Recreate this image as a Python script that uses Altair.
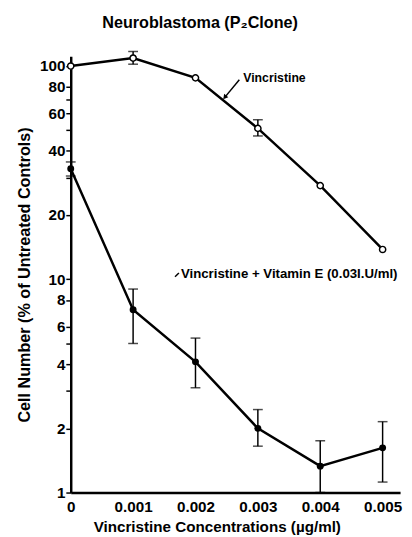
import altair as alt
import pandas as pd

# ---- data ----
conc = [0, 0.001, 0.002, 0.003, 0.004, 0.005]
vinc = [100, 109, 88, 51, 27.5, 13.8]
vinc_err_x = [0.001, 0.003]
vinc_err_lo = [102, 47]
vinc_err_hi = [117, 56]

vite = [33, 7.2, 4.1, 2.0, 1.33, 1.62]
vite_lo = [30.5, 5.0, 3.1, 1.65, 1.0, 1.12]
vite_hi = [35.5, 9.0, 5.3, 2.45, 1.75, 2.15]

y_ticks = [1, 2, 3, 4, 5, 6, 8, 10, 20, 30, 40, 50, 60, 70, 80, 100]
y_labels = [1, 2, 4, 6, 8, 10, 20, 40, 60, 80, 100]
x_ticks = [0, 0.001, 0.002, 0.003, 0.004, 0.005]

labels = ["Vincristine", "Vincristine + Vitamin E (0.03I.U/ml)"]
label_size = [12.5, 13.5]
label_x = [0.002766, 0.001766]
label_y = [88.1, 10.6]
ptr_x = [0.002703, 0.001672]
ptr_y = [86.2, 10.27]
ptr_x2 = [0.002469, 0.001734]
ptr_y2 = [71.3, 10.7]

FONT = "Liberation Sans"

df_v = pd.DataFrame({"x": conc, "y": vinc})
df_ve = pd.DataFrame({"x": vinc_err_x, "lo": vinc_err_lo, "hi": vinc_err_hi})
df_e = pd.DataFrame({"x": conc, "y": vite, "lo": vite_lo, "hi": vite_hi})
df_lab = pd.DataFrame({"x": label_x, "y": label_y, "t": labels, "s": label_size})
df_ptr = pd.DataFrame({"x": ptr_x, "y": ptr_y, "x2": ptr_x2, "y2": ptr_y2})

xs = alt.Scale(domain=[0, 0.00528], nice=False, zero=False)
ys = alt.Scale(type="log", domain=[1, 111], nice=False)

label_expr = "indexof(" + str(y_labels) + ", datum.value) >= 0 ? datum.value : ''"

X = alt.X("x:Q", scale=xs, axis=alt.Axis(
    values=x_ticks, labelExpr="datum.value == 0 ? '0' : format(datum.value, '.3f')",
    title="Vincristine Concentrations (µg/ml)", tickSize=0, labelPadding=7,
    grid=False, domainColor="black", domainWidth=2.5, labelFontSize=15.5,
    labelFontWeight="bold", labelColor="black", titleFontSize=15.5,
    titleFontWeight="bold", titlePadding=5, titleX=149, titleAnchor="start",
    titleAlign="center",
    labelFont=FONT, titleFont=FONT, labelFlush=False))
Y = alt.Y("y:Q", scale=ys, axis=alt.Axis(
    values=y_ticks, labelExpr=label_expr,
    title="Cell Number (% of Untreated Controls)", tickSize=5, tickWidth=1.5,
    tickColor="black", labelPadding=1, grid=False, domainColor="black",
    domainWidth=2.5, labelFontSize=15.5, labelFontWeight="bold", labelColor="black",
    titleFontSize=16.5, titleFontWeight="bold", titlePadding=7, labelFont=FONT,
    titleFont=FONT))

line_v = alt.Chart(df_v).mark_line(color="black", strokeWidth=2.5).encode(x=X, y=Y)
line_e = alt.Chart(df_e).mark_line(color="black", strokeWidth=2.5).encode(x=X, y=Y)

err_e = alt.Chart(df_e).mark_rule(color="black", strokeWidth=1.5).encode(
    x=X, y=alt.Y("lo:Q", scale=ys), y2="hi:Q")
cap_e_lo = alt.Chart(df_e).mark_tick(color="black", thickness=1.5, size=10, orient="horizontal").encode(
    x=X, y=alt.Y("lo:Q", scale=ys))
cap_e_hi = alt.Chart(df_e).mark_tick(color="black", thickness=1.5, size=10, orient="horizontal").encode(
    x=X, y=alt.Y("hi:Q", scale=ys))

err_v = alt.Chart(df_ve).mark_rule(color="black", strokeWidth=1.5).encode(
    x=X, y=alt.Y("lo:Q", scale=ys), y2="hi:Q")
cap_v_lo = alt.Chart(df_ve).mark_tick(color="black", thickness=1.5, size=10, orient="horizontal").encode(
    x=X, y=alt.Y("lo:Q", scale=ys))
cap_v_hi = alt.Chart(df_ve).mark_tick(color="black", thickness=1.5, size=10, orient="horizontal").encode(
    x=X, y=alt.Y("hi:Q", scale=ys))

pts_v = alt.Chart(df_v).mark_point(shape="circle", filled=True, fill="white", stroke="black",
                                   strokeWidth=1.5, size=40, opacity=1).encode(x=X, y=Y)
pts_e = alt.Chart(df_e).mark_point(shape="circle", filled=True, color="black", size=50,
                                   opacity=1).encode(x=X, y=Y)

txt = alt.Chart(df_lab).mark_text(align="left", baseline="middle", font=FONT,
                                  fontWeight="bold", color="black").encode(
    x=X, y=Y, text="t:N", size=alt.Size("s:Q", scale=None, legend=None))
ptr = alt.Chart(df_ptr).mark_rule(color="black", strokeWidth=1.5).encode(
    x=X, y=Y, x2="x2:Q", y2="y2:Q")
head = alt.Chart(df_ptr.iloc[[0]]).mark_point(shape="triangle-up", filled=True, color="black",
                                              size=30, angle=220, opacity=1).encode(
    x=alt.X("x2:Q", scale=xs), y=alt.Y("y2:Q", scale=ys))

chart = alt.layer(
    line_v, line_e, err_e, cap_e_lo, cap_e_hi, err_v, cap_v_lo, cap_v_hi,
    pts_v, pts_e, ptr, head, txt
).properties(
    width=336, height=445,
    title=alt.Title("Neuroblastoma (P₂Clone)", font=FONT, fontSize=16.5, fontWeight="bold",
                    color="black", anchor="middle", dx=-36, offset=20),
    autosize=alt.AutoSizeParams(type="none"),
    padding={"left": 64, "top": 44, "right": 4, "bottom": 40},
).configure_view(stroke=None)

chart.save("out.html", embed_options={"renderer": "svg", "actions": False})
